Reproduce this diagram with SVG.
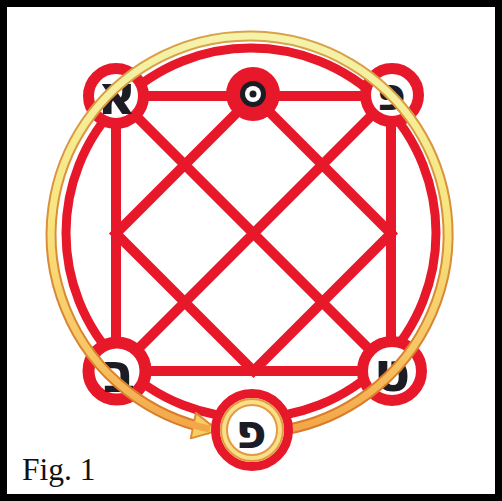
<svg xmlns="http://www.w3.org/2000/svg" width="502" height="501" viewBox="0 0 502 501">
<style>
.red{fill:none;stroke:#e8182b;stroke-linecap:round}
.ring{fill:#ffffff;stroke:#e8182b}
.glyph{font-family:"DejaVu Sans","Liberation Sans",sans-serif;font-weight:bold;font-size:54px;fill:#1c1c24;text-anchor:middle;dominant-baseline:central}
.fig{font-family:"Liberation Serif","Times New Roman",serif;font-size:31.5px;fill:#111111}
</style>
<defs>
<linearGradient id="core" gradientUnits="userSpaceOnUse" x1="0" y1="36" x2="0" y2="433">
<stop offset="0" stop-color="#f4f3aa"/>
<stop offset="0.45" stop-color="#f8e57e"/>
<stop offset="0.8" stop-color="#f7c564"/>
<stop offset="1" stop-color="#f3a446"/>
</linearGradient>
<linearGradient id="edge" gradientUnits="userSpaceOnUse" x1="0" y1="36" x2="0" y2="433">
<stop offset="0" stop-color="#d9a24a"/>
<stop offset="1" stop-color="#d97a2a"/>
</linearGradient>
<marker id="arrow" markerUnits="userSpaceOnUse" markerWidth="32" markerHeight="32" viewBox="0 0 32 32" refX="20" refY="16" orient="auto">
<path d="M3,3 L28,16 L3,29 Z" fill="#f6cf62" stroke="#de8a34" stroke-width="2" stroke-linejoin="round"/>
</marker>
</defs>
<rect x="0" y="0" width="502" height="501" fill="#ffffff"/>
<g id="connectors">
<circle class="red" cx="251" cy="233" r="185" stroke-width="9"/>
<path class="red" stroke-width="10" d="M116,96 H391 V371 H116 Z M116,96 L391,371 M391,96 L116,371 M253.5,96 L116,233.5 L253.5,371 L391,233.5 Z"/>
</g>
<g id="node-tl">
<circle class="ring" cx="116" cy="96" r="27.5" stroke-width="11"/>
<text class="glyph" x="117" y="95">א</text>
</g>
<g id="node-tc">
<circle cx="253" cy="94" r="27" fill="#e8182b"/>
<circle cx="253" cy="94" r="13" fill="#1c1c24"/>
<circle cx="253" cy="94" r="8" fill="#ffffff"/>
<circle cx="253" cy="94" r="3.5" fill="#1c1c24"/>
</g>
<g id="node-tr">
<circle class="ring" cx="392" cy="95" r="26.5" stroke-width="11"/>
<text class="glyph" x="391" y="94" style="font-size:46px">פ</text>
</g>
<g id="node-bl">
<circle class="ring" cx="117" cy="371" r="28.5" stroke-width="12"/>
<text class="glyph" x="119" y="373">ב</text>
</g>
<g id="node-br">
<circle class="ring" cx="392" cy="371" r="29.5" stroke-width="11"/>
<text class="glyph" x="392" y="372">ט</text>
</g>
<g id="flow">
<path d="M285,429.8 A198.5,198.5 0 1 0 210,429" fill="none" stroke="url(#edge)" stroke-width="11" marker-end="url(#arrow)"/>
<path d="M285,429.8 A198.5,198.5 0 1 0 210,429" fill="none" stroke="url(#core)" stroke-width="7"/>
</g>
<g id="node-bc">
<circle cx="252" cy="430" r="36.5" fill="#ffffff" stroke="#e8182b" stroke-width="9"/>
<circle cx="252" cy="430" r="28" fill="none" stroke="#e69a40" stroke-width="8"/>
<circle cx="252" cy="430" r="28" fill="none" stroke="#f7e08a" stroke-width="4"/>
<text class="glyph" x="251" y="431" style="font-size:48px">פ</text>
</g>
<text class="fig" x="22" y="480">Fig. 1</text>
<rect x="3.5" y="3.5" width="495" height="494" fill="none" stroke="#000000" stroke-width="7"/>
</svg>
